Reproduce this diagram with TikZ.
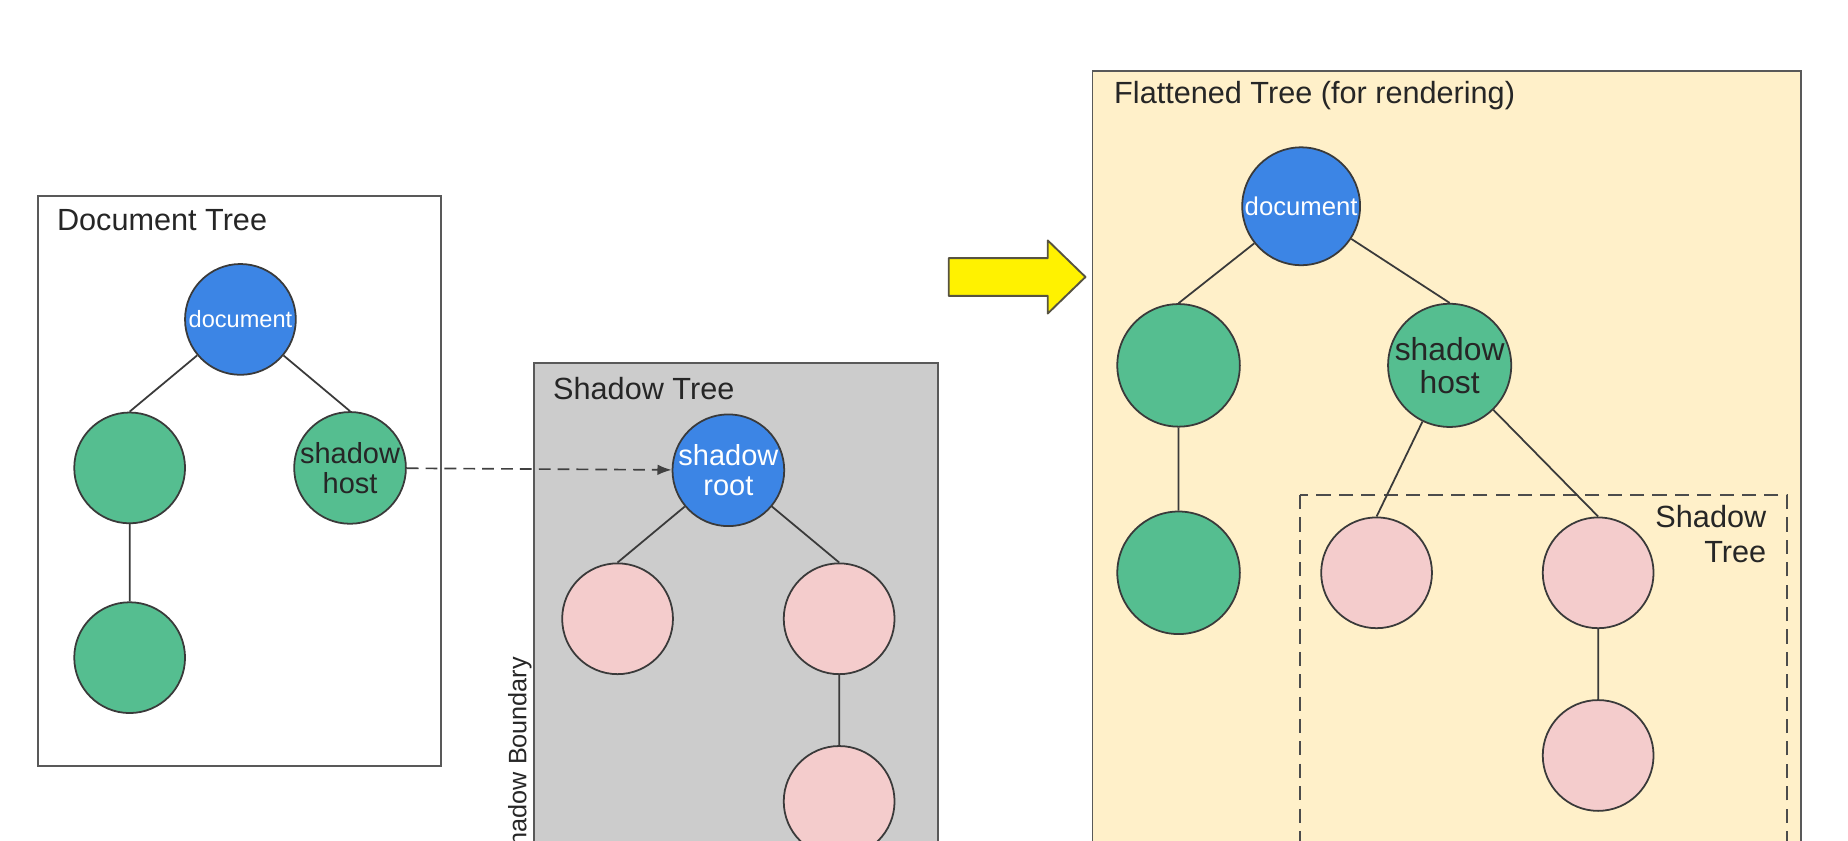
\documentclass[tikz,border=0pt]{standalone}
\usepackage{fontspec}
\setmainfont{Liberation Sans}
\usepackage {tikz}
\usetikzlibrary {positioning}
\usetikzlibrary{arrows.meta}
\definecolor{docblue}{HTML}{3C85E5}
\definecolor{hostgreen}{HTML}{55BE90}
\definecolor{leafpink}{HTML}{F4CCCC}
\definecolor{boxgray}{HTML}{CCCCCC}
\definecolor{boxbeige}{HTML}{FFF0C9}
\definecolor{arrowyellow}{HTML}{FFF200}
\definecolor{linecol}{HTML}{3A3A3A}
\tikzset{
    treenode/.style = {circle,draw=linecol,line width=0.75pt,minimum size=47pt,inner sep=0pt,align=center},
    docnode/.style = {treenode,fill=docblue,text=white,font=\fontsize{10}{10}\selectfont},
    rootnode/.style = {treenode,fill=docblue,text=white,font=\fontsize{12.3}{12.5}\selectfont},
    greennode/.style = {treenode,fill=hostgreen,text=black!85,font=\fontsize{12.3}{12.5}\selectfont},
    pinknode/.style = {treenode,fill=leafpink},
    bigger/.style = {minimum size=52pt},
    treebox/.style = {draw=black!65,line width=0.8pt},
    shadowframe/.style = {draw=black!70,line width=0.9pt,dash pattern=on 6pt off 3.5pt},
    boxlabel/.style = {anchor=west,inner sep=0pt,font=\fontsize{13}{15}\selectfont,text=black!85},
    edge/.style = {draw=linecol,line width=0.75pt},
    linkarrow/.style = {draw=black!75,line width=0.7pt,dash pattern=on 5pt off 3pt,-{Latex[length=6pt,width=4.5pt]}},
    bigarrow/.style = {fill=arrowyellow,draw=black!60!yellow!60!black,line width=0.8pt,line join=round}}

\begin{document}
\begin{tikzpicture}[x=0.5pt,y=-0.5pt]
    \useasboundingbox (0,0) rectangle (1568,713);
    \clip (0,0) rectangle (1568,713);
    % frames
    \draw[treebox] (32,166) rectangle (374,650);
    \draw[treebox,fill=boxgray] (453,308) rectangle (796,780);
    \draw[treebox,fill=boxbeige] (927,60) rectangle (1528,780);
    \draw[shadowframe] (1103,420) rectangle (1516,780);
    \node[boxlabel] (doctitle) at (48,187) {Document Tree};
    \node[boxlabel] (shadowtitle) at (469,330) {Shadow Tree};
    \node[boxlabel] (flattitle) at (945,81) {Flattened Tree (for rendering)};
    \node[boxlabel,anchor=east,align=right] (innertitle) at (1499,453) {Shadow\\Tree};
    \node[rotate=90,anchor=east,inner sep=0pt,font=\fontsize{10.7}{12}\selectfont,text=black!85] (boundary) at (441,557) {Shadow Boundary};
    \draw[bigarrow] (805,219) -- (889,219) -- (889,204) -- (921,235) -- (889,266) -- (889,251) -- (805,251) -- cycle;
    % document tree
    \path (204,271) node[docnode] (doc0) {document}
    ++ (-94,126) node[greennode] (left0) {}
    + (0,161) node[greennode] (leaf0) {}
    ++ (187,0) node[greennode] (host0) {shadow\\host};
    \draw[edge] (doc0) -- (left0.north) (doc0) -- (host0.north) (left0) -- (leaf0.north);
    % shadow tree
    \path (618,399) node[rootnode] (root1) {shadow\\root}
    ++ (-94,126) node[pinknode] (pleft1) {}
    ++ (188,0) node[pinknode] (pright1) {}
    + (0,155) node[pinknode] (pleaf1) {};
    \draw[edge] (root1) -- (pleft1.north) (root1) -- (pright1.north) (pright1) -- (pleaf1.north);
    \draw[linkarrow] (host0) -- (root1);
    % flattened tree
    \path (1104,175) node[docnode,minimum size=50pt,font=\fontsize{10.9}{11}\selectfont] (doc2) {document}
    ++ (-104,135) node[greennode,bigger] (left2) {}
    + (0,176) node[greennode,bigger] (leaf2) {}
    ++ (230,0) node[greennode,bigger,font=\fontsize{13.5}{13.8}\selectfont] (host2) {shadow\\host}
    ++ (-62,176) node[pinknode] (pleft2) {}
    ++ (188,0) node[pinknode] (pright2) {}
    + (0,155) node[pinknode] (pleaf2) {};
    \draw[edge] (doc2) -- (left2.north) (doc2) -- (host2.north) (left2) -- (leaf2.north)
    (host2) -- (pleft2.north) (host2) -- (pright2.north) (pright2) -- (pleaf2.north);
\end{tikzpicture}
\end{document}
